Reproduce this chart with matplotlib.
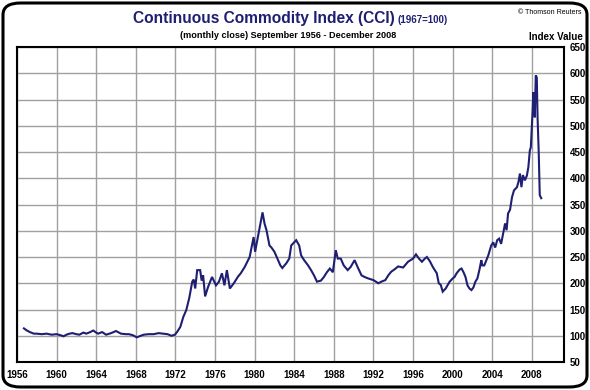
import matplotlib
matplotlib.use("Agg")
import matplotlib.pyplot as plt
from matplotlib.patches import FancyBboxPatch
import numpy as np

# CCI monthly close (decimal year, index value)
years = [1956.7, 1957.0, 1957.3, 1957.7, 1958.0, 1958.5, 1959.0, 1959.5, 1960.0, 1960.4,
         1960.7, 1961.0, 1961.3, 1961.6, 1962.0, 1962.3, 1962.7, 1963.0, 1963.4, 1963.7,
         1964.0, 1964.2, 1964.6, 1965.0, 1965.5, 1966.0, 1966.2, 1966.5, 1967.0, 1967.3,
         1967.7, 1968.1, 1968.5, 1968.8, 1969.3, 1969.8, 1970.3, 1970.8, 1971.2, 1971.6,
         1971.95, 1972.2, 1972.5, 1972.8, 1973.1, 1973.4, 1973.7, 1973.85, 1974.0, 1974.2,
         1974.5, 1974.65, 1974.8, 1975.0, 1975.3, 1975.7, 1976.1, 1976.4, 1976.7, 1976.95,
         1977.2, 1977.5, 1977.9, 1978.3, 1978.6, 1979.0, 1979.5, 1979.9, 1980.05, 1980.4,
         1980.6, 1980.8, 1981.0, 1981.2, 1981.5, 1981.7, 1982.0, 1982.3, 1982.6, 1982.8,
         1983.2, 1983.5, 1983.7, 1984.0, 1984.2, 1984.5, 1984.7, 1985.0, 1985.4, 1985.7,
         1986.0, 1986.3, 1986.7, 1987.0, 1987.3, 1987.6, 1987.9, 1988.2, 1988.4, 1988.7,
         1989.0, 1989.4, 1989.7, 1990.1, 1990.4, 1990.8, 1991.1, 1991.5, 1992.0, 1992.5,
         1992.8, 1993.2, 1993.5, 1993.8, 1994.1, 1994.5, 1995.0, 1995.5, 1996.0, 1996.3,
         1996.6, 1996.9, 1997.2, 1997.4, 1997.7, 1998.0, 1998.4, 1998.6, 1998.8, 1999.0,
         1999.3, 1999.7, 2000.0, 2000.2, 2000.4, 2000.7, 2000.9, 2001.1, 2001.3, 2001.5,
         2001.7, 2001.9, 2002.1, 2002.3, 2002.5, 2002.7, 2002.9, 2003.0, 2003.2, 2003.35,
         2003.6, 2003.9, 2004.1, 2004.3, 2004.5, 2004.7, 2004.9, 2005.1, 2005.3, 2005.45,
         2005.6, 2005.8, 2006.0, 2006.2, 2006.5, 2006.65, 2006.8, 2006.95, 2007.1, 2007.3,
         2007.5, 2007.65, 2007.8, 2007.9, 2008.0, 2008.08, 2008.15, 2008.22, 2008.3, 2008.4,
         2008.5, 2008.58, 2008.7, 2008.8, 2008.95]
cci = [114, 110, 107, 104, 104, 103, 104, 102, 103, 101,
       99, 102, 104, 105, 103, 102, 106, 104, 107, 110,
       106, 104, 107, 102, 105, 109, 107, 104, 103, 103,
       101, 97, 100, 102, 103, 103, 105, 104, 103, 100,
       102, 108, 117, 136, 149, 172, 203, 207, 190, 225,
       225, 205, 215, 175, 193, 212, 196, 203, 219, 196,
       225, 190, 200, 212, 219, 231, 250, 288, 260, 295,
       315, 335, 314, 301, 272, 268, 260, 247, 234, 229,
       238, 247, 272, 278, 282, 272, 253, 244, 234, 225,
       215, 203, 205, 212, 221, 228, 221, 263, 247, 247,
       234, 225, 231, 244, 231, 215, 212, 209, 206, 200,
       203, 206, 215, 222, 226, 232, 230, 241, 247, 255,
       247, 241, 247, 250, 242, 231, 219, 200, 197, 184,
       190, 203, 209, 212, 219, 226, 228, 221, 212, 196,
       190, 187, 192, 203, 209, 225, 244, 234, 234, 241,
       253, 272, 278, 268, 282, 285, 275, 295, 314, 301,
       333, 340, 364, 377, 383, 393, 409, 383, 406, 396,
       405, 421, 453, 459, 497, 529, 564, 548, 516, 596,
       592, 516, 447, 368, 362]

xticks = [1956, 1960, 1964, 1968, 1972, 1976, 1980, 1984, 1988, 1992, 1996, 2000, 2004, 2008]
yticks = [50, 100, 150, 200, 250, 300, 350, 400, 450, 500, 550, 600, 650]

navy = "#1e1e72"
tick_font = ["Liberation Sans Narrow", "Liberation Sans", "DejaVu Sans"]
plt.rcParams["font.family"] = ["Liberation Sans", "DejaVu Sans"]

fig = plt.figure(figsize=(5.9, 3.9), dpi=100)
ax = fig.add_axes([17/590, 1 - 362/390, (564-17)/590, (362-47)/390])

ax.plot(years, cci, color=navy, lw=1.5, solid_joinstyle="miter")

ax.set_xlim(1956, 2011.25)
ax.set_ylim(50, 650)
ax.set_xticks(xticks)
ax.set_yticks(yticks)
ax.set_xticklabels([str(t) for t in xticks], fontsize=7, fontweight="bold", family=tick_font)
ax.set_yticklabels([str(t) for t in yticks], fontsize=7, fontweight="bold", family=tick_font)
ax.yaxis.tick_right()
ax.tick_params(length=0, pad=4)
ax.tick_params(axis="x", pad=6)
ax.grid(True, color="#a0a0a0", lw=1)
ax.set_axisbelow(True)
for s in ax.spines.values():
    s.set_linewidth(1.5)
    s.set_color("black")

# rounded outer frame
frame = FancyBboxPatch((3/590, 3/390), 584/590, 384/390, boxstyle="round,pad=0,rounding_size=0.03",
                       transform=fig.transFigure, fill=False, ec="black", lw=2.2)
fig.patches.append(frame)

fig.text(133/590, 1 - 19/390, "Continuous Commodity Index (CCI)", color=navy, fontsize=11.2,
         fontweight="bold", ha="left", va="center")
fig.text(397/590, 1 - 20/390, "(1967=100)", color=navy, fontsize=7, fontweight="bold",
         ha="left", va="center")
fig.text(288/590, 1 - 36/390, "(monthly close) September 1956 - December 2008", fontsize=6.6,
         fontweight="bold", ha="center", va="center", family=tick_font)
fig.text(581/590, 1 - 13/390, "\u00a9 Thomson Reuters", fontsize=5, ha="right", va="center")
fig.text(583/590, 1 - 37/390, "Index Value", fontsize=7, fontweight="bold", ha="right",
         va="center", family=tick_font)

fig.savefig("out.png", dpi=100)
